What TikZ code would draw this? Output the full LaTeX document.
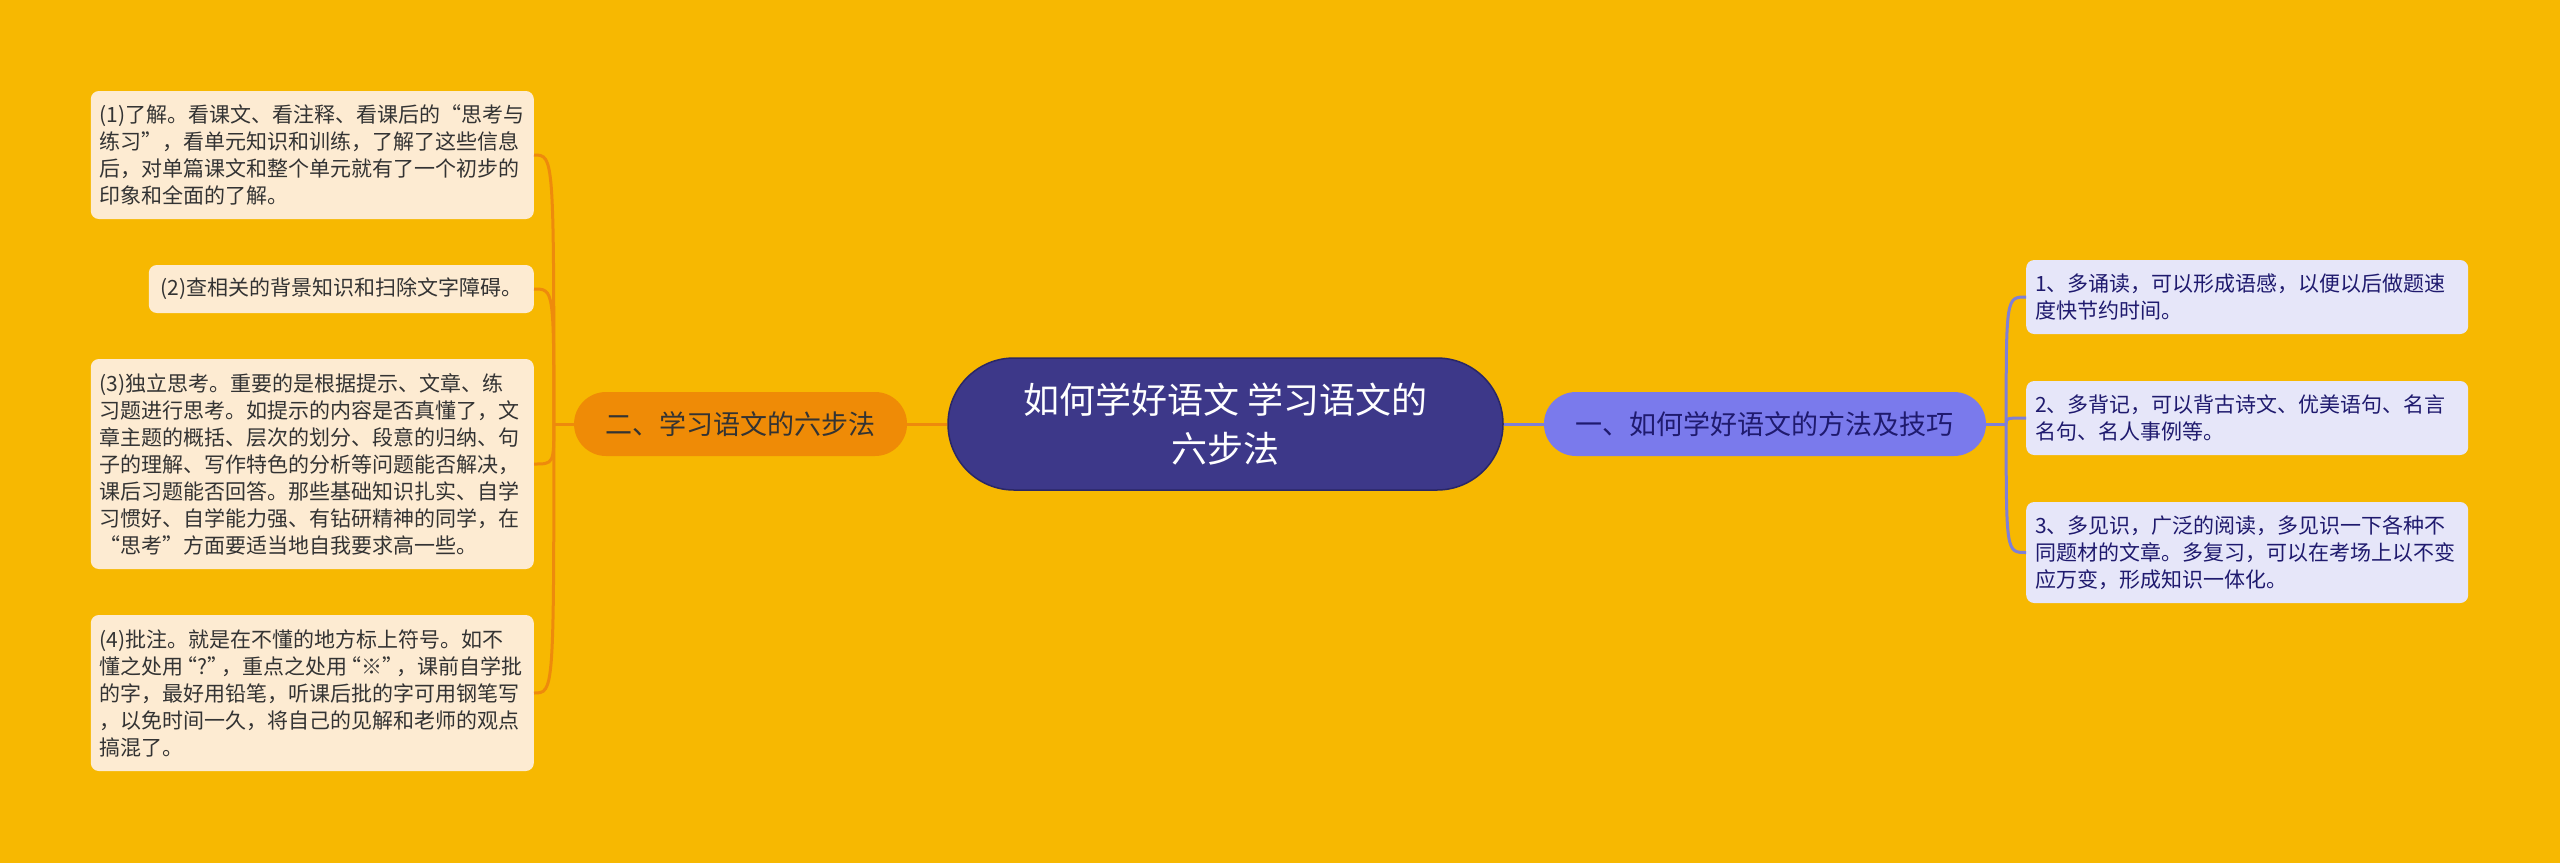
\documentclass[tikz,border=0pt]{standalone}
\usepackage{fontspec}
\setmainfont{Noto Sans CJK SC}
\usetikzlibrary{positioning,calc}

\definecolor{bgfill}{HTML}{F7B801}
\definecolor{rootfill}{HTML}{3D3889}
\definecolor{rootline}{HTML}{2A2766}
\definecolor{orangefill}{HTML}{EF8B06}
\definecolor{orangeline}{HTML}{EE8A0C}
\definecolor{creamfill}{HTML}{FDEBD2}
\definecolor{bluefill}{HTML}{7A7AEC}
\definecolor{blueline}{HTML}{7F7FD6}
\definecolor{lavfill}{HTML}{E6E6F9}
\definecolor{darktext}{HTML}{333333}
\definecolor{navytext}{HTML}{1F1A6E}

\begin{document}
\begin{tikzpicture}[x=1pt, y=-1pt,
    root/.style = {draw=rootline, line width=1.5pt, fill=rootfill, text=white, rounded corners=66pt, minimum width=555pt, minimum height=132pt, align=center, font=\fontsize{36}{49}\selectfont},
    sub/.style = {rounded corners=32pt, minimum height=64pt, font=\fontsize{27}{32}\selectfont},
    leaf/.style = {rounded corners=8pt, align=left, inner xsep=9pt, font=\fontsize{21}{27}\selectfont},
    lbox/.style = {leaf, fill=creamfill, text=darktext},
    rbox/.style = {leaf, fill=lavfill, text=navytext},
    lcon/.style = {orangeline, line width=3pt},
    rcon/.style = {blueline, line width=3pt}]

    \fill[bgfill] (0,0) rectangle (2560,863);
    \useasboundingbox (0,0) rectangle (2560,863);

    \node[root] (0) at (1225.5,424) {如何学好语文 学习语文的\\六步法};
    \node[sub, fill=orangefill, text=darktext, minimum width=333pt] (1) [left=40pt of 0] {二、学习语文的六步法};
    \node[sub, fill=bluefill, text=navytext, minimum width=442pt] (2) [right=40pt of 0] {一、如何学好语文的方法及技巧};

    \node[lbox, text width=425pt, minimum height=128pt, anchor=east] (11) at (534,155) {(1)了解。看课文、看注释、看课后的“思考与\\练习”，看单元知识和训练，了解了这些信息\\后，对单篇课文和整个单元就有了一个初步的\\印象和全面的了解。};
    \node[lbox, minimum width=385pt, minimum height=48pt, anchor=east] (12) at (534,289) {(2)查相关的背景知识和扫除文字障碍。};
    \node[lbox, text width=425pt, minimum height=210pt, anchor=east] (13) at (534,464) {(3)独立思考。重要的是根据提示、文章、练\\习题进行思考。如提示的内容是否真懂了，文\\章主题的概括、层次的划分、段意的归纳、句\\子的理解、写作特色的分析等问题能否解决，\\课后习题能否回答。那些基础知识扎实、自学\\习惯好、自学能力强、有钻研精神的同学，在\\“思考”方面要适当地自我要求高一些。};
    \node[lbox, text width=425pt, minimum height=156pt, anchor=east] (14) at (534,693) {(4)批注。就是在不懂的地方标上符号。如不\\懂之处用\kern-7pt“?”\kern-7pt，重点之处用\kern-7pt“※”\kern-7pt，课前自学批\\的字，最好用铅笔，听课后批的字可用钢笔写\\，以免时间一久，将自己的见解和老师的观点\\搞混了。};

    \node[rbox, text width=424pt, minimum height=74pt, anchor=west] (21) at (2026,297) {1、多诵读，可以形成语感，以便以后做题速\\度快节约时间。};
    \node[rbox, text width=424pt, minimum height=74pt, anchor=west] (22) at (2026,418) {2、多背记，可以背古诗文、优美语句、名言\\名句、名人事例等。};
    \node[rbox, text width=424pt, minimum height=101pt, anchor=west] (23) at (2026,552.5) {3、多见识，广泛的阅读，多见识一下各种不\\同题材的文章。多复习，可以在考场上以不变\\应万变，形成知识一体化。};

    \coordinate (jl) at ($(1.west)+(-20,0)$);
    \coordinate (jr) at ($(2.east)+(20,0)$);

    \draw[lcon] (0) -- (1);
    \draw[lcon] (1.west) -- (jl);
    \draw[lcon] (jl) .. controls (jl |- 11.east) .. (11.east);
    \draw[lcon] (jl) .. controls (jl |- 12.east) .. (12.east);
    \draw[lcon] (jl) .. controls (jl |- 13.east) .. (13.east);
    \draw[lcon] (jl) .. controls (jl |- 14.east) .. (14.east);

    \draw[rcon] (0) -- (2);
    \draw[rcon] (2.east) -- (jr);
    \draw[rcon] (jr) .. controls (jr |- 21.west) .. (21.west);
    \draw[rcon] (jr) .. controls (jr |- 22.west) .. (22.west);
    \draw[rcon] (jr) .. controls (jr |- 23.west) .. (23.west);

\end{tikzpicture}
\end{document}
